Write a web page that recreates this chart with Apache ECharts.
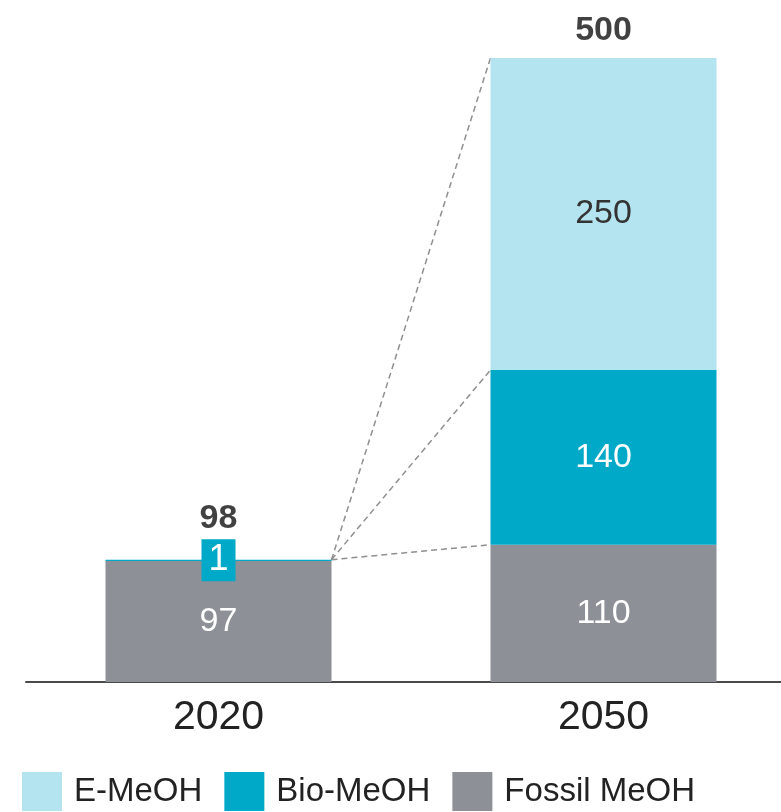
<!DOCTYPE html>
<html>
<head>
<meta charset="utf-8">
<script src="https://cdn.jsdelivr.net/npm/echarts@6/dist/echarts.min.js"></script>
<style>
  html, body { margin: 0; padding: 0; background: #ffffff; }
  #chart { width: 781px; height: 812px; }
</style>
</head>
<body>
<div id="chart"></div>
<script>
// Methanol production by pathway (Mt)
const years = ['2020', '2050'];
const fossilMeoh = [97, 110];
const bioMeoh = [1, 140];
const eMeoh = [0, 250];
const totals = [98, 500];
const seriesNames = ['E-MeOH', 'Bio-MeOH', 'Fossil MeOH'];

const FONT = "'Liberation Sans Narrow', 'Arial Narrow', 'Liberation Sans', Arial, sans-serif";
const COLORS = { e: '#b3e4ef', bio: '#00a9c8', fossil: '#8d9096' };
const BAR_W = 226;

// Connector lines: top of the 2020 stack to each boundary of the 2050 stack
const stack2050 = [fossilMeoh[1], fossilMeoh[1] + bioMeoh[1], totals[1]];
const connectorData = stack2050.map(v => [0, totals[0], v]);

const chart = echarts.init(document.getElementById('chart'), null, { renderer: 'canvas' });

const insideLabel = (color) => ({
  show: true,
  position: 'inside',
  color: color,
  fontFamily: FONT,
  fontSize: 34,
  formatter: p => (p.value ? String(p.value) : '')
});

chart.setOption({
  animation: false,
  backgroundColor: '#ffffff',
  // the plot area runs a little past the right edge so the second bar sits near it
  grid: { left: 26, right: -15, top: 58, bottom: 130, containLabel: false, outerBoundsMode: 'none' },
  xAxis: {
    type: 'category',
    data: years,
    axisLine: { show: true, lineStyle: { color: '#4a4a4a', width: 2 } },
    axisTick: { show: false },
    axisLabel: { color: '#222', fontFamily: FONT, fontSize: 41, margin: 15 }
  },
  yAxis: {
    type: 'value',
    min: 0,
    max: 500,
    show: false,
    splitLine: { show: false }
  },
  legend: {
    data: seriesNames,
    left: 22,
    bottom: 1,
    padding: 0,
    itemWidth: 40,
    itemHeight: 39,
    itemGap: 22,
    icon: 'rect',
    textStyle: { color: '#222', fontFamily: FONT, fontSize: 33, padding: [0, 0, 0, 7] }
  },
  series: [
    {
      name: 'Fossil MeOH',
      type: 'bar',
      stack: 'total',
      barWidth: BAR_W,
      itemStyle: { color: COLORS.fossil },
      label: insideLabel('#ffffff'),
      data: fossilMeoh
    },
    {
      name: 'Bio-MeOH',
      type: 'bar',
      stack: 'total',
      barWidth: BAR_W,
      itemStyle: { color: COLORS.bio },
      label: insideLabel('#ffffff'),
      data: bioMeoh.map((v, i) => i === 0
        ? {
            value: v,
            label: {
              show: true,
              position: 'inside',
              color: '#ffffff',
              fontFamily: FONT,
              fontSize: 36,
              lineHeight: 36,
              backgroundColor: COLORS.bio,
              padding: [3, 7, 3, 7]
            }
          }
        : v)
    },
    {
      name: 'E-MeOH',
      type: 'bar',
      stack: 'total',
      barWidth: BAR_W,
      itemStyle: { color: COLORS.e },
      label: insideLabel('#333333'),
      data: eMeoh
    },
    {
      name: 'Total',
      type: 'scatter',
      symbolSize: 0,
      silent: true,
      z: 5,
      label: {
        show: true,
        position: 'inside',
        color: '#111',
        fontFamily: FONT,
        fontWeight: 'bold',
        fontSize: 34,
        formatter: p => String(p.value[1])
      },
      data: totals.map((v, i) => ({
        value: [i, v],
        label: { offset: [0, i === 0 ? -41 : -27] }
      }))
    },
    {
      name: 'Connectors',
      type: 'custom',
      silent: true,
      z: 1,
      encode: { x: 0, y: [1, 2] },
      renderItem: function (params, api) {
        const start = api.coord([api.value(0), api.value(1)]);
        const end = api.coord([api.value(0) + 1, api.value(2)]);
        return {
          type: 'line',
          shape: { x1: start[0] + BAR_W / 2, y1: start[1], x2: end[0] - BAR_W / 2, y2: end[1] },
          style: { stroke: '#8f8f8f', lineWidth: 1.5, lineDash: [6, 4] }
        };
      },
      data: connectorData
    }
  ]
});
</script>
</body>
</html>
